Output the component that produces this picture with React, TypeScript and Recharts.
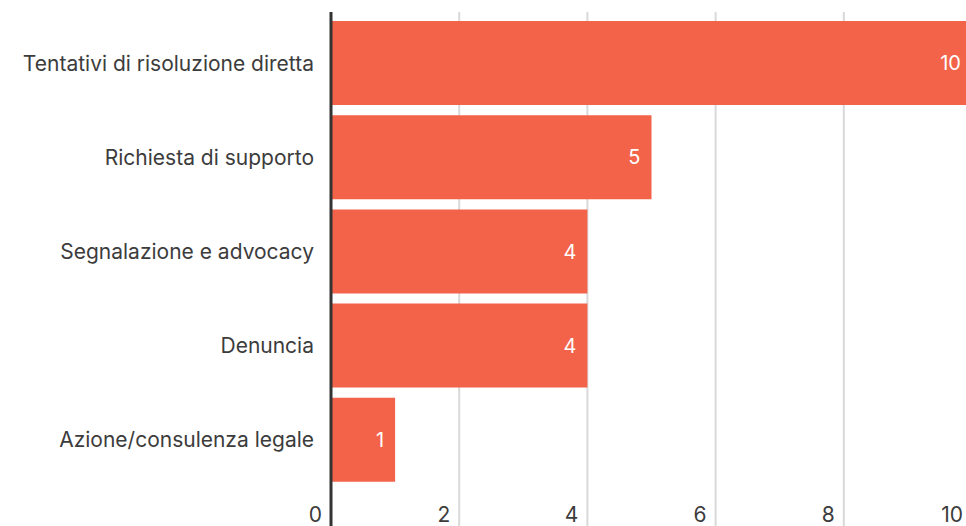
import React from 'react';
import {
  BarChart,
  Bar,
  XAxis,
  YAxis,
  CartesianGrid,
  LabelList,
} from 'recharts';

const CATEGORIES = [
  'Tentativi di risoluzione diretta',
  'Richiesta di supporto',
  'Segnalazione e advocacy',
  'Denuncia',
  'Azione/consulenza legale',
];
const COUNTS = [10, 5, 4, 4, 1];
const X_TICKS = [0, 2, 4, 6, 8, 10];

const BAR_COLOR = '#F2634A';
const TEXT_COLOR = '#3c3c3c';
const FONT = 'Inter, "Noto Sans", sans-serif';

const data = CATEGORIES.map((name, i) => ({ name, value: COUNTS[i] }));

// x tick labels sit left of their grid line, pulled up into the plot bottom
const XTick = (props: any) => {
  const { x, y, payload } = props;
  return (
    <text
      x={x - 9}
      y={y - 8}
      textAnchor="end"
      fill={TEXT_COLOR}
      fontSize={21}
      fontFamily={FONT}
    >
      {payload.value}
    </text>
  );
};

export default function App() {
  return (
    <div
      style={{
        position: 'absolute',
        left: 0,
        top: 0,
        width: 966,
        height: 526,
        overflow: 'hidden',
        background: '#fff',
      }}
    >
      <BarChart
        width={972}
        height={560}
        data={data}
        layout="vertical"
        margin={{ top: 12, right: 0, bottom: 0, left: 0 }}
      >
        <CartesianGrid
          horizontal={false}
          stroke="#d9d9d9"
          strokeWidth={2}
        />
        <XAxis
          type="number"
          domain={[0, 10]}
          ticks={X_TICKS}
          height={30}
          axisLine={false}
          tickLine={false}
          tickSize={0}
          tickMargin={0}
          tick={<XTick />}
          interval={0}
        />
        <YAxis
          type="category"
          dataKey="name"
          width={331}
          padding={{ top: 4, bottom: 43 }}
          axisLine={{ stroke: '#333333', strokeWidth: 3 }}
          tickLine={false}
          tickSize={0}
          tickMargin={17}
          tick={{ fill: TEXT_COLOR, fontSize: 21, fontFamily: FONT }}
        />
        <Bar
          dataKey="value"
          fill={BAR_COLOR}
          barSize={84}
          isAnimationActive={false}
        >
          <LabelList
            dataKey="value"
            position="insideRight"
            offset={11}
            fill="#ffffff"
            fontSize={20}
            fontFamily={FONT}
          />
        </Bar>
      </BarChart>
    </div>
  );
}
